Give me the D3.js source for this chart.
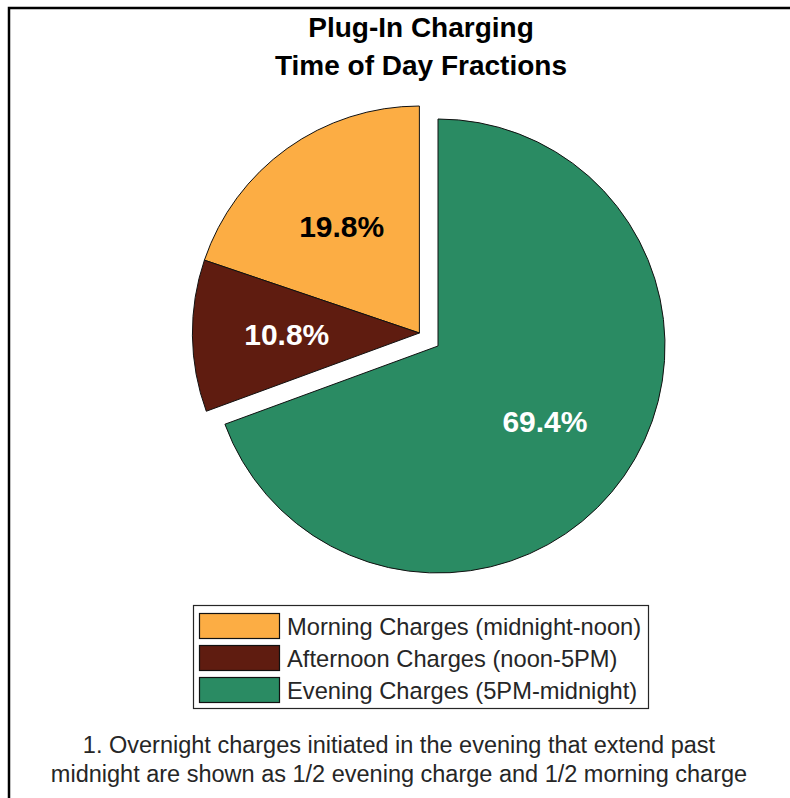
<!DOCTYPE html>
<html>
<head>
<meta charset="utf-8">
<script src="https://cdn.jsdelivr.net/npm/d3@7"></script>
<style>
  body { margin: 0; background: #fff; }
  svg { display: block; font-family: "Liberation Sans", Arial, sans-serif; }
</style>
</head>
<body>
<svg id="chart"></svg>
<script>
// chart data
const titleLines = ["Plug-In Charging", "Time of Day Fractions"];
const categories = ["Morning Charges (midnight-noon)", "Afternoon Charges (noon-5PM)", "Evening Charges (5PM-midnight)"];
const shares = [19.8, 10.8, 69.4];          // percent
const exploded = [true, true, false];
const sliceColors = ["#FCAD44", "#5F1C10", "#2A8B63"];
const labelColors = ["#000000", "#ffffff", "#ffffff"];
const footnoteLines = [
  "1. Overnight charges initiated in the evening that extend past",
  "midnight are shown as 1/2 evening charge and 1/2 morning charge"
];

const width = 790, height = 798;
const svg = d3.select("#chart").attr("width", width).attr("height", height);

// figure frame (only top and left edges fall inside the picture)
svg.append("rect")
  .attr("x", 9).attr("y", 8)
  .attr("width", width + 20).attr("height", height + 20)
  .attr("fill", "none").attr("stroke", "#000").attr("stroke-width", 2.5);

// title
svg.append("g")
  .selectAll("text")
  .data(titleLines)
  .join("text")
  .attr("x", 421)
  .attr("y", (d, i) => 37 + i * 38)
  .attr("text-anchor", "middle")
  .attr("font-size", "28px")
  .attr("font-weight", "bold")
  .attr("fill", "#000")
  .text(d => d);

// pie, counter-clockwise from 12 o'clock like MATLAB
const cx = 438, cy = 346, R = 227;
const pie = d3.pie().sort(null).startAngle(0).endAngle(-2 * Math.PI);
const arcs = pie(shares);
const arc = d3.arc().innerRadius(0).outerRadius(R);
const labelArc = d3.arc().innerRadius(R * 0.58).outerRadius(R * 0.58);

// exploded slices move together along the bisector of the group
const grp = arcs.filter((d, i) => exploded[i]);
const a0 = d3.max(grp, d => d.startAngle), a1 = d3.min(grp, d => d.endAngle);
const mid = (a0 + a1) / 2;
const off = [Math.sin(mid) * R * 0.1, -Math.cos(mid) * R * 0.1];

const slices = svg.append("g").attr("transform", `translate(${cx},${cy})`);
slices.selectAll("g")
  .data(arcs)
  .join("g")
  .attr("transform", (d, i) => exploded[i] ? `translate(${off[0]},${off[1]})` : null)
  .each(function (d, i) {
    const g = d3.select(this);
    g.append("path")
      .attr("d", arc(d))
      .attr("fill", sliceColors[i])
      .attr("stroke", "#111")
      .attr("stroke-width", 1);
    const [lx, ly] = labelArc.centroid(d);
    g.append("text")
      .attr("x", lx - 1).attr("y", ly)
      .attr("dy", "0.36em")
      .attr("text-anchor", "middle")
      .attr("font-size", "30px")
      .attr("font-weight", "bold")
      .attr("fill", labelColors[i])
      .text(shares[i].toFixed(1) + "%");
  });

// legend
const legend = svg.append("g");
legend.append("rect")
  .attr("x", 193.5).attr("y", 605.5)
  .attr("width", 455).attr("height", 103)
  .attr("fill", "#fff").attr("stroke", "#262626").attr("stroke-width", 1.2);

const rowY = d3.scalePoint().domain(categories).range([626, 690]);
const rows = legend.selectAll("g.row")
  .data(categories)
  .join("g")
  .attr("class", "row")
  .attr("transform", d => `translate(0,${rowY(d)})`);
rows.append("rect")
  .attr("x", 199.5).attr("y", -12.5)
  .attr("width", 80).attr("height", 25)
  .attr("fill", (d, i) => sliceColors[i])
  .attr("stroke", "#111").attr("stroke-width", 1.2);
rows.append("text")
  .attr("x", 287).attr("y", 0)
  .attr("dy", "0.36em")
  .attr("font-size", "23.7px")
  .attr("fill", "#262626")
  .text(d => d);

// footnote
svg.append("g")
  .selectAll("text")
  .data(footnoteLines)
  .join("text")
  .attr("x", 399)
  .attr("y", (d, i) => 753 + i * 29)
  .attr("text-anchor", "middle")
  .attr("font-size", "23.5px")
  .attr("fill", "#262626")
  .text(d => d);
</script>
</body>
</html>
